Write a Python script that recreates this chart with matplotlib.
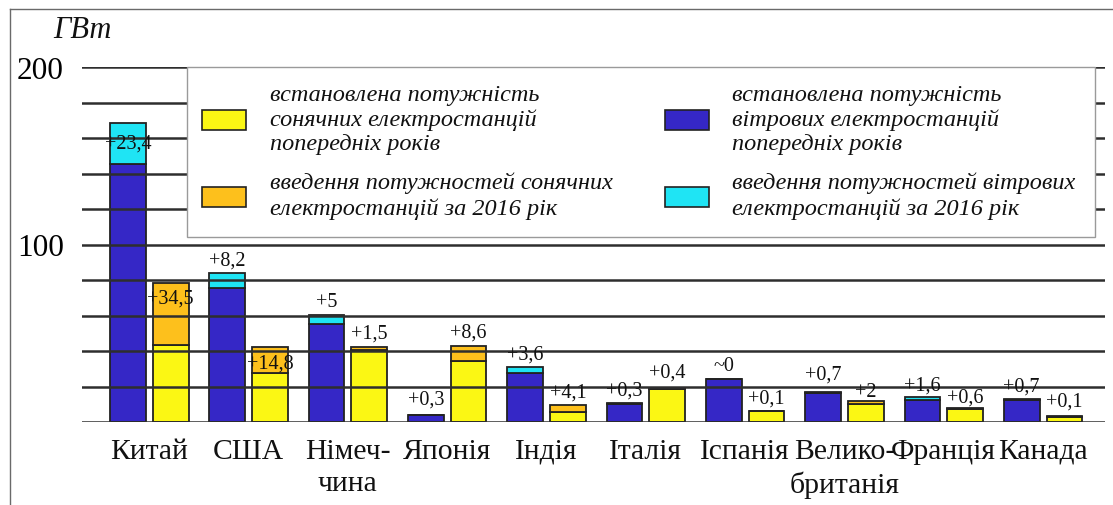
import matplotlib
matplotlib.use("Agg")
import matplotlib.pyplot as plt
from matplotlib.patches import Rectangle
from matplotlib.lines import Line2D
import numpy as np

# Installed wind and solar capacity, GW
countries = ["Китай", "США", "Німеч-\nчина", "Японія", "Індія", "Італія",
             "Іспанія", "Велико-\nбританія", "Франція", "Канада"]
wind_prev = [145.3, 75.5, 55.3, 3.7, 27.5, 10.3, 24.1, 16.1, 12.3, 12.2]
wind_2016 = [23.4, 8.2, 5.0, 0.3, 3.6, 0.3, 0.0, 0.7, 1.6, 0.7]
solar_prev = [43.6, 27.7, 40.5, 34.2, 5.5, 18.8, 6.1, 10.0, 7.1, 3.0]
solar_2016 = [34.5, 14.8, 1.5, 8.6, 4.1, 0.4, 0.1, 2.0, 0.6, 0.1]

legend_labels = [
    "встановлена потужність\nсонячних електростанцій\nпопередніх років",
    "введення потужностей сонячних\nелектростанцій за 2016 рік",
    "встановлена потужність\nвітрових електростанцій\nпопередніх років",
    "введення потужностей вітрових\nелектростанцій за 2016 рік",
]

C_WIND = "#3527c6"
C_WIND_NEW = "#1fe4f4"
C_SOLAR = "#fbf714"
C_SOLAR_NEW = "#fdc01c"
EDGE = "#222222"
SERIF = "Liberation Serif"

# vertical label offsets (pixels from top of each bar)
wind_off = [-20, 13, 13, 16, 13, 13, 14, 18, 12, 13]
solar_off = [-15, -16, 14, 14, 13, 16, 13, 9, 11, 15]


def fmt(v):
    if v == 0:
        return "~0"
    return "+" + f"{v:g}".replace(".", ",")


W, H = 1113, 506
fig = plt.figure(figsize=(W / 100, H / 100), dpi=100)
ax = fig.add_axes([82 / W, 1 - 423 / H, (1105 - 82) / W, (423 - 68) / H])

x = np.arange(len(countries))
bw = 0.36
dx = 0.215
xw = x - dx
xs = x + dx

kw = dict(width=bw, edgecolor=EDGE, linewidth=1.3, zorder=2)
ax.bar(xw, wind_prev, color=C_WIND, **kw)
ax.bar(xw, wind_2016, bottom=wind_prev, color=C_WIND_NEW, **kw)
ax.bar(xs, solar_prev, color=C_SOLAR, **kw)
ax.bar(xs, solar_2016, bottom=solar_prev, color=C_SOLAR_NEW, **kw)

ax.set_xlim(-0.678, 9.624)
ax.set_ylim(0, 200)
ax.set_yticks(np.arange(0, 201, 20))
ax.set_yticklabels(["" if t not in (100, 200) else str(t) for t in range(0, 201, 20)],
                   family=SERIF, fontsize=22.5)
ax.tick_params(axis="y", length=0, pad=13)
ax.set_xticks([])
ax.grid(axis="y", color="#2e2e2e", linewidth=1.8, zorder=2.5)
ax.set_axisbelow(False)
for s in ax.spines.values():
    s.set_visible(False)

# value labels
for i in range(len(countries)):
    top_w = wind_prev[i] + wind_2016[i]
    top_s = solar_prev[i] + solar_2016[i]
    ax.annotate(fmt(wind_2016[i]), xy=(xw[i], top_w), xytext=(0, wind_off[i]),
                textcoords="offset pixels", ha="center", va="center",
                family=SERIF, fontsize=14.5, color="#111111", zorder=6)
    ax.annotate(fmt(solar_2016[i]), xy=(xs[i], top_s), xytext=(0, solar_off[i]),
                textcoords="offset pixels", ha="center", va="center",
                family=SERIF, fontsize=14.5, color="#111111", zorder=6)

# category names
for i, name in enumerate(countries):
    ax.annotate(name, xy=(x[i], 0), xycoords=("data", "axes fraction"),
                xytext=(0, -16), textcoords="offset pixels", ha="center", va="top",
                family=SERIF, fontsize=21.3, linespacing=1.32, color="#111111")

# unit
fig.text(53 / W, 1 - 31 / H, "ГВт", family=SERIF, style="italic", fontsize=22,
         ha="left", va="center", color="#111111")

# legend box
leg = Rectangle((187 / W, 1 - 238 / H), (1095 - 187) / W, (238 - 68) / H,
                transform=fig.transFigure, facecolor="white", edgecolor="#9a9a9a",
                linewidth=1.0, zorder=4)
fig.add_artist(leg)
items = [
    (202, 111, 20, C_SOLAR, 270, 120, legend_labels[0]),
    (202, 188, 20, C_SOLAR_NEW, 270, 196, legend_labels[1]),
    (665, 111, 20, C_WIND, 732, 120, legend_labels[2]),
    (665, 188, 20, C_WIND_NEW, 732, 196, legend_labels[3]),
]
for (bx, by, bh, col, tx, ty, lab) in items:
    r = Rectangle((bx / W, 1 - (by + bh) / H), 44 / W, bh / H, transform=fig.transFigure,
                  facecolor=col, edgecolor=EDGE, linewidth=1.2, zorder=5)
    fig.add_artist(r)
    fig.text(tx / W, 1 - ty / H, lab, family=SERIF, style="italic", fontsize=17.5,
             ha="left", va="center", linespacing=1.22, color="#111111", zorder=6)

# outer frame lines
fig.add_artist(Line2D([10 / W, 1], [1 - 10 / H, 1 - 10 / H], transform=fig.transFigure,
                      color="#6a6a6a", linewidth=1.0))
fig.add_artist(Line2D([10 / W, 10 / W], [0, 1 - 10 / H], transform=fig.transFigure,
                      color="#6a6a6a", linewidth=1.0))

fig.savefig("out.png", dpi=100)
